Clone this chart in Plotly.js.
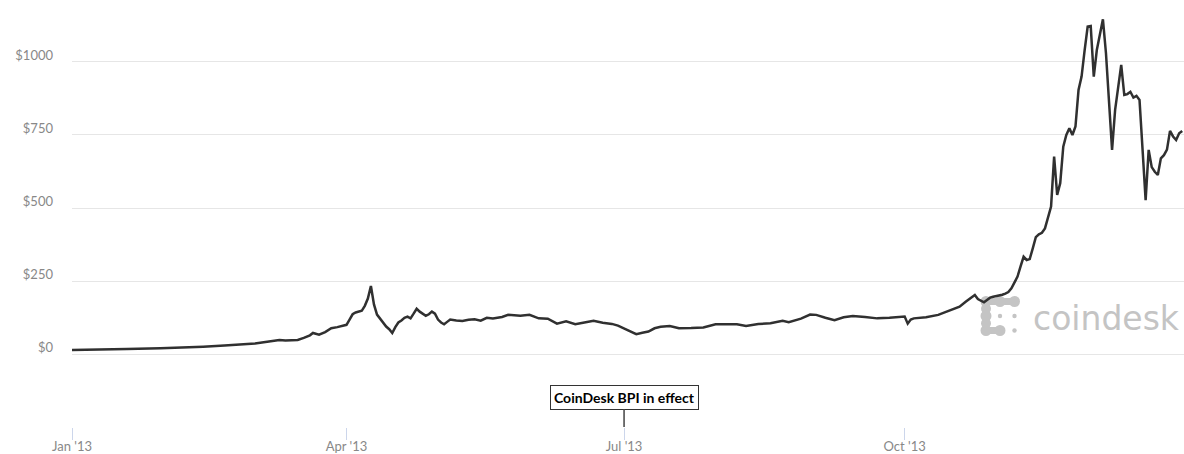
<!DOCTYPE html>
<html>
<head>
<meta charset="utf-8">
<script src="https://cdn.plot.ly/plotly-3.0.1.min.js"></script>
<style>
  html, body { margin: 0; padding: 0; background: #fff; }
  #chart { width: 1184px; height: 454px; }
</style>
</head>
<body>
<div id="chart"></div>
<script>
// Bitcoin price index (USD), 2013
const dates = [
  '2013-01-01','2013-01-10','2013-01-19','2013-01-30','2013-02-06','2013-02-13','2013-02-20','2013-02-26',
  '2013-03-02','2013-03-06','2013-03-08','2013-03-10','2013-03-12','2013-03-14','2013-03-16','2013-03-18',
  '2013-03-20','2013-03-21','2013-03-22','2013-03-23','2013-03-25','2013-03-27','2013-03-29','2013-03-31',
  '2013-04-01','2013-04-02','2013-04-03','2013-04-04','2013-04-05','2013-04-06','2013-04-07','2013-04-08',
  '2013-04-09','2013-04-10','2013-04-11','2013-04-12','2013-04-13','2013-04-14','2013-04-15','2013-04-16',
  '2013-04-17','2013-04-18','2013-04-19','2013-04-20','2013-04-21','2013-04-22','2013-04-23','2013-04-24',
  '2013-04-25','2013-04-26','2013-04-27','2013-04-28','2013-04-29','2013-04-30','2013-05-01','2013-05-02',
  '2013-05-03','2013-05-04','2013-05-05','2013-05-07','2013-05-09','2013-05-11','2013-05-13','2013-05-15',
  '2013-05-17','2013-05-19','2013-05-22','2013-05-24','2013-05-26','2013-05-28','2013-05-31','2013-06-03',
  '2013-06-06','2013-06-09','2013-06-12','2013-06-15','2013-06-18','2013-06-21','2013-06-24','2013-06-27',
  '2013-06-29','2013-07-01','2013-07-03','2013-07-05','2013-07-07','2013-07-09','2013-07-11','2013-07-13',
  '2013-07-16','2013-07-19','2013-07-23','2013-07-27','2013-07-31','2013-08-04','2013-08-07','2013-08-10',
  '2013-08-14','2013-08-18','2013-08-22','2013-08-24','2013-08-28','2013-08-31','2013-09-02','2013-09-05',
  '2013-09-08','2013-09-11','2013-09-14','2013-09-18','2013-09-22','2013-09-26','2013-09-30','2013-10-01',
  '2013-10-02','2013-10-03','2013-10-04','2013-10-08','2013-10-12','2013-10-15','2013-10-19','2013-10-21',
  '2013-10-23','2013-10-24','2013-10-25','2013-10-26','2013-10-27','2013-10-28','2013-10-29','2013-10-30',
  '2013-10-31','2013-11-01','2013-11-02','2013-11-03','2013-11-04','2013-11-05','2013-11-06','2013-11-07',
  '2013-11-08','2013-11-09','2013-11-10','2013-11-11','2013-11-12','2013-11-13','2013-11-14','2013-11-15',
  '2013-11-16','2013-11-17','2013-11-18','2013-11-19','2013-11-20','2013-11-21','2013-11-22','2013-11-23',
  '2013-11-24','2013-11-25','2013-11-26','2013-11-27','2013-11-28','2013-11-29','2013-11-30','2013-12-01',
  '2013-12-02','2013-12-03','2013-12-04','2013-12-05','2013-12-06','2013-12-07','2013-12-08','2013-12-09',
  '2013-12-10','2013-12-11','2013-12-12','2013-12-13','2013-12-14','2013-12-15','2013-12-16','2013-12-17',
  '2013-12-18','2013-12-19','2013-12-20','2013-12-21','2013-12-22','2013-12-23','2013-12-24','2013-12-25',
  '2013-12-26','2013-12-27','2013-12-28','2013-12-29','2013-12-30','2013-12-31'
];

const prices = [
  14, 15, 17, 20, 22, 25, 29, 32,
  36, 42, 45, 48, 46, 47, 48, 55,
  64, 72, 70, 66, 75, 88, 92, 97,
  100, 118, 136, 142, 145, 148, 165, 190,
  233, 170, 135, 120, 105, 94, 85, 72,
  92, 108, 115, 124, 128, 122, 138, 155,
  145, 138, 131, 136, 145, 138, 118, 108,
  102, 110, 118, 115, 113, 117, 119, 114,
  124, 122, 127, 134, 133, 131, 134, 122,
  121, 104, 112, 102, 108, 114, 107, 103,
  97, 88, 78, 68, 73, 77, 88, 93,
  96, 88, 89, 91, 102, 103, 102, 96,
  103, 105, 114, 109, 121, 135, 134, 124,
  116, 126, 130, 127, 122, 124, 128, 128,
  104, 118, 122, 126, 134, 145, 162, 179,
  195, 202, 188, 182, 177, 185, 193, 196,
  198, 202, 203, 207, 212, 225, 245, 265,
  300, 333, 322, 325, 362, 400, 410, 415,
  430, 470, 505, 676, 545, 585, 710, 750,
  773, 750, 779, 904, 950, 1040, 1121, 1123,
  950, 1041, 1090, 1146, 1030, 860, 699, 836,
  910, 990, 887, 890, 898, 878, 884, 870,
  700, 527, 699, 640, 624, 613, 670, 681,
  700, 764, 745, 733, 756, 764
];

const yTickVals = [0, 250, 500, 750, 1000];
const yTickText = ['$0', '$250', '$500', '$750', '$1000'];
const xTickVals = ['2013-01-01', '2013-04-01', '2013-07-01', '2013-10-01'];
const xTickText = ["Jan '13", "Apr '13", "Jul '13", "Oct '13"];

const noteDate = '2013-07-01';
const noteText = 'CoinDesk BPI in effect';
const brandText = 'coindesk';

// plot-area geometry used to place the brand mark in paper coordinates
const W = 1184, H = 454, M = { l: 72, r: 0, t: 0, b: 27 };
const PW = W - M.l - M.r, PH = H - M.t - M.b;
const px = x => (x - M.l) / PW;
const py = y => (M.t + PH - y) / PH;

const markColor = '#c4c4c4';
const cols = [986, 1000, 1014.5];
const rows = [301.5, 316, 330.5];
const shapes = [];
function seg(x0, y0, x1, y1) {
  shapes.push({ type: 'line', xref: 'paper', yref: 'paper', layer: 'below',
    x0: px(x0), y0: py(y0), x1: px(x1), y1: py(y1),
    line: { color: markColor, width: 7 } });
}
function dot(x, y, r) {
  shapes.push({ type: 'circle', xref: 'paper', yref: 'paper', layer: 'below',
    x0: px(x - r), x1: px(x + r), y0: py(y + r), y1: py(y - r),
    fillcolor: markColor, line: { width: 0 } });
}
seg(cols[0], rows[0], cols[2], rows[0]);
seg(cols[0], rows[0], cols[0], rows[2]);
seg(cols[0], rows[2], cols[1], rows[2]);
[[0,0],[1,0],[2,0],[0,1],[0,2],[1,2]].forEach(([c, r]) => dot(cols[c], rows[r], 5.5));
dot(cols[0], (rows[0] + rows[1]) / 2, 5);
dot(cols[0], (rows[1] + rows[2]) / 2, 5);
[[1,1],[2,1],[2,2]].forEach(([c, r]) => dot(cols[c], rows[r], 2.2));

const trace = {
  type: 'scatter',
  mode: 'lines',
  x: dates,
  y: prices,
  line: { color: '#303030', width: 2.5, shape: 'linear' },
  hoverinfo: 'skip'
};

const layout = {
  width: W,
  height: H,
  autosize: false,
  margin: M,
  paper_bgcolor: '#ffffff',
  plot_bgcolor: '#ffffff',
  showlegend: false,
  font: { family: 'Lato, "Open Sans", sans-serif', size: 13, color: '#888888' },
  xaxis: {
    type: 'date',
    range: ['2013-01-01', '2013-12-31 14:00'],
    showgrid: false,
    zeroline: false,
    showline: false,
    tickvals: xTickVals,
    ticktext: xTickText,
    ticks: 'outside',
    ticklen: 12,
    tickwidth: 1,
    tickcolor: '#ccd6eb',
    ticklabelstandoff: -5,
    tickfont: { size: 13, color: '#888888' },
    fixedrange: true
  },
  yaxis: {
    range: [-250, 1212.3],
    tickvals: yTickVals,
    ticktext: yTickText,
    showgrid: true,
    gridcolor: '#e6e6e6',
    gridwidth: 1,
    zeroline: false,
    showline: false,
    ticks: '',
    ticklabelstandoff: 18,
    ticklabelshift: -7,
    tickfont: { size: 13, color: '#888888' },
    fixedrange: true
  },
  shapes: shapes,
  annotations: [
    {
      x: noteDate, xref: 'x',
      y: 0, yref: 'paper',
      text: '<b>' + noteText + '</b>',
      showarrow: true, arrowhead: 0, arrowwidth: 1.5, arrowcolor: '#444444',
      ax: 0, ay: -30,
      bgcolor: '#ffffff', bordercolor: '#333333', borderwidth: 1, borderpad: 3,
      font: { family: 'Lato, sans-serif', size: 14, color: '#000000' }
    },
    {
      x: px(1031), xref: 'paper', xanchor: 'left',
      y: py(318), yref: 'paper', yanchor: 'middle',
      text: brandText, showarrow: false,
      font: { family: '"DejaVu Sans", sans-serif', size: 33, color: markColor }
    }
  ]
};

Plotly.newPlot('chart', [trace], layout, { displayModeBar: false, staticPlot: true });
</script>
</body>
</html>
